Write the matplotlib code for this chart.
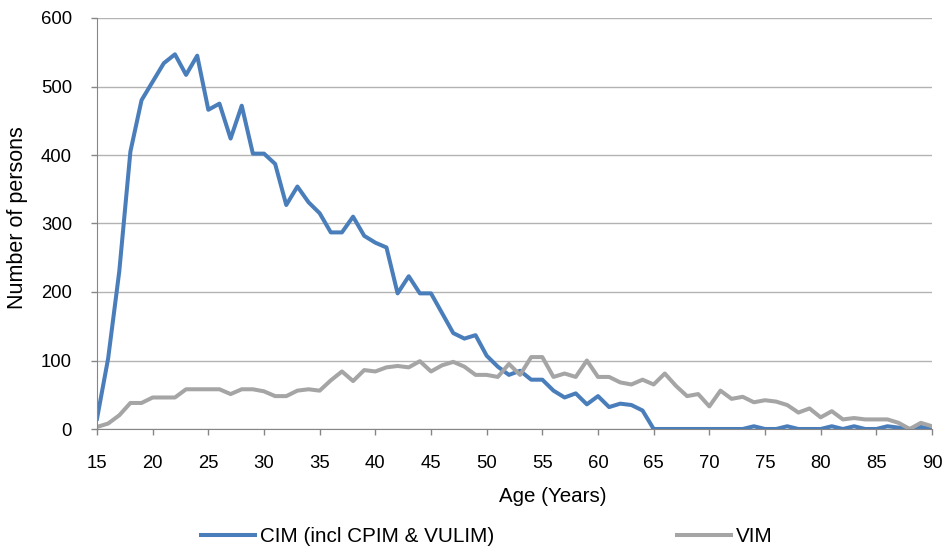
import numpy as np
import matplotlib.pyplot as plt

plt.rcParams['font.family'] = ['Liberation Sans', 'DejaVu Sans']

ages = list(range(15, 91))

# Number of persons by age
cim = [15, 103, 230, 405, 480, 507, 534, 547, 517, 545,
       466, 475, 424, 472, 402, 402, 387, 327, 354, 331,
       315, 287, 287, 310, 282, 272, 265, 198, 223, 198,
       198, 169, 140, 132, 137, 107, 91, 79, 85, 72,
       72, 56, 46, 52, 36, 48, 32, 37, 35, 27,
       0, 0, 0, 0, 0, 0, 0, 0, 0, 4,
       0, 0, 4, 0, 0, 0, 4, 0, 4, 0,
       0, 4, 2, 0, 3, 0]
vim = [3, 8, 20, 38, 38, 46, 46, 46, 58, 58,
       58, 58, 51, 58, 58, 55, 48, 48, 56, 58,
       56, 71, 84, 70, 86, 84, 90, 92, 90, 99,
       84, 93, 98, 91, 79, 79, 76, 95, 79, 105,
       105, 76, 81, 76, 100, 76, 76, 68, 65, 72,
       65, 81, 63, 48, 51, 33, 56, 44, 47, 39,
       42, 40, 35, 24, 30, 17, 26, 14, 16, 14,
       14, 14, 9, 0, 9, 4]

labels = ['CIM (incl CPIM & VULIM)', 'VIM']
colors = ['#4a7ebb', '#a5a5a5']

W, H = 948, 552
fig = plt.figure(figsize=(W / 100, H / 100), dpi=100)
ax = fig.add_axes([97 / W, 1 - 429 / H, 835 / W, 411 / H])

ax.plot(ages, cim, color=colors[0], lw=2.9, label=labels[0], solid_joinstyle='round')
ax.plot(ages, vim, color=colors[1], lw=2.9, label=labels[1], solid_joinstyle='round')

ax.set_xlim(15, 90)
ax.set_ylim(0, 600)
ax.set_xticks(range(15, 91, 5))
ax.set_yticks(range(0, 601, 100))
ax.yaxis.grid(True, color='#b3b3b3', lw=1)
ax.set_axisbelow(True)
for s in ['top', 'right']:
    ax.spines[s].set_visible(False)
for s in ['left', 'bottom']:
    ax.spines[s].set_color('#868686')
ax.tick_params(axis='both', colors='#868686', length=4, width=1,
               labelcolor='black', labelsize=13.3)
ax.tick_params(axis='y', pad=14)
ax.tick_params(axis='x', pad=15)

fig.text(553 / W, 1 - 496 / H, 'Age (Years)', fontsize=14.8, ha='center', va='center')
fig.text(18 / W, 1 - 218 / H, 'Number of persons', fontsize=15.5, rotation=90,
         ha='center', va='center')

fig.legend(loc='center', bbox_to_anchor=(487 / W, 1 - 537 / H), ncol=2,
           frameon=False, fontsize=14.9, handlelength=2.6, columnspacing=8.8,
           handletextpad=0.25, borderaxespad=0)

fig.savefig('out.png', dpi=100)
